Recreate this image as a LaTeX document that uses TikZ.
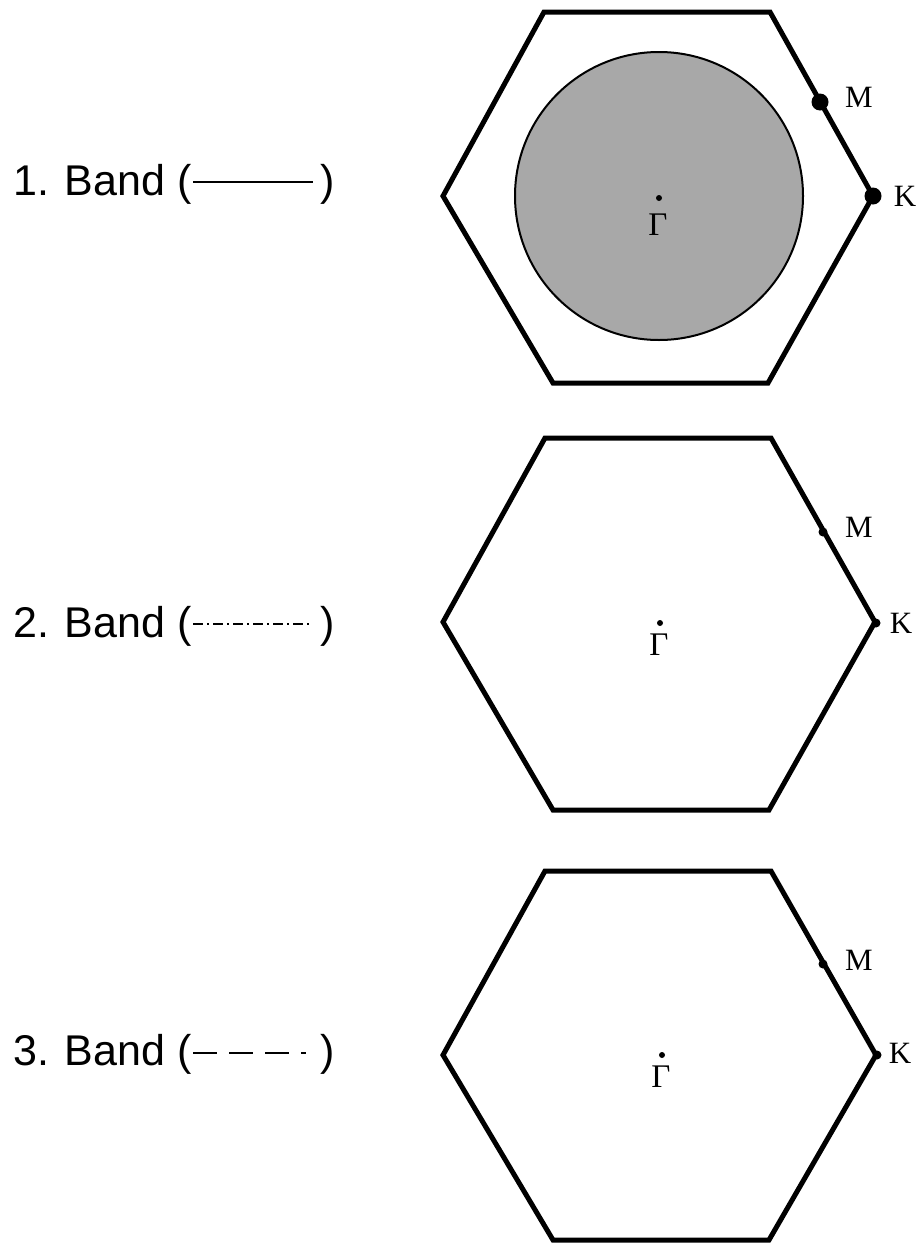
\documentclass[tikz,border=0pt]{standalone}
\usepackage{fontspec}
\setmainfont{Liberation Sans}
\newfontfamily\serifgr{Liberation Serif}
\begin{document}
\begin{tikzpicture}[x=1pt,y=-1pt,
  hexline/.style={line width=5pt,line join=miter},
  bigdot/.style={circle,fill=black,inner sep=0pt,minimum size=17pt},
  smalldot/.style={circle,fill=black,inner sep=0pt,minimum size=9pt},
  gdot/.style={circle,fill=black,inner sep=0pt,minimum size=6pt},
  ptlabel/.style={font=\serifgr\fontsize{31}{34}\selectfont,inner sep=0pt},
  gamlabel/.style={font=\serifgr\fontsize{33}{36}\selectfont,inner sep=0pt},
  bandtext/.style={font=\fontsize{43}{48}\selectfont,inner sep=0pt,anchor=base west},
  legline/.style={line width=2.2pt}]
\useasboundingbox (0,0) rectangle (919,1245);
% ---------- Hexagon 1 ----------
\coordinate (a1) at (544,12);
\coordinate (b1) at (770,12);
\coordinate (c1) at (873,196);
\coordinate (d1) at (768,383);
\coordinate (e1) at (553,383);
\coordinate (f1) at (443,196);
\coordinate (g1) at (659,196);
\fill[fill={rgb,255:red,168;green,168;blue,168}] (g1) circle[radius=144];
\draw[line width=2pt] (g1) circle[radius=144];
\draw[hexline] (a1) -- (b1) -- (c1) -- (d1) -- (e1) -- (f1) -- cycle;
\node[bigdot] (m1) at (820,102) {};
\node[bigdot] (k1) at (873,196) {};
\node[gdot] (gd1) at (659,198) {};
\node[ptlabel] (ml1) at (859,97) {M};
\node[ptlabel] (kl1) at (905,196) {K};
\node[gamlabel] (gl1) at (658,225) {Γ};
% ---------- Hexagon 2 ----------
\coordinate (a2) at (545,438);
\coordinate (b2) at (771,438);
\coordinate (c2) at (875,622);
\coordinate (d2) at (769,810);
\coordinate (e2) at (553,810);
\coordinate (f2) at (443,622);
\draw[hexline] (a2) -- (b2) -- (c2) -- (d2) -- (e2) -- (f2) -- cycle;
\node[smalldot] (m2) at (823,532) {};
\node[smalldot] (k2) at (876,623) {};
\node[gdot] (gd2) at (660,623) {};
\node[ptlabel] (ml2) at (859,527) {M};
\node[ptlabel] (kl2) at (901,623) {K};
\node[gamlabel] (gl2) at (659,645) {Γ};
% ---------- Hexagon 3 ----------
\coordinate (a3) at (545,871);
\coordinate (b3) at (771,871);
\coordinate (c3) at (876,1055);
\coordinate (d3) at (769,1240);
\coordinate (e3) at (553,1240);
\coordinate (f3) at (443,1055);
\draw[hexline] (a3) -- (b3) -- (c3) -- (d3) -- (e3) -- (f3) -- cycle;
\node[smalldot] (m3) at (823,964) {};
\node[smalldot] (k3) at (877,1055) {};
\node[gdot] (gd3) at (662,1055) {};
\node[ptlabel] (ml3) at (859,960) {M};
\node[ptlabel] (kl3) at (900,1053) {K};
\node[gamlabel] (gl3) at (661,1077) {Γ};
% ---------- Legend ----------
\node[bandtext] (t1) at (13,195) {1. Band (};
\node[bandtext] (p1) at (320,195) {)};
\coordinate (l1a) at (193,182);
\coordinate (l1b) at (313,182);
\draw[legline] (l1a) -- (l1b);
\node[bandtext] (t2) at (13,637) {2. Band (};
\node[bandtext] (p2) at (320,637) {)};
\coordinate (l2a) at (193,624);
\coordinate (l2b) at (311,624);
\draw[legline,dash pattern=on 10pt off 4pt on 2pt off 4pt] (l2a) -- (l2b);
\node[bandtext] (t3) at (13,1065) {3. Band (};
\node[bandtext] (p3) at (320,1065) {)};
\coordinate (l3a) at (193,1053);
\coordinate (l3b) at (306,1053);
\draw[legline,dash pattern=on 24pt off 12pt] (l3a) -- (l3b);
\end{tikzpicture}
\end{document}
